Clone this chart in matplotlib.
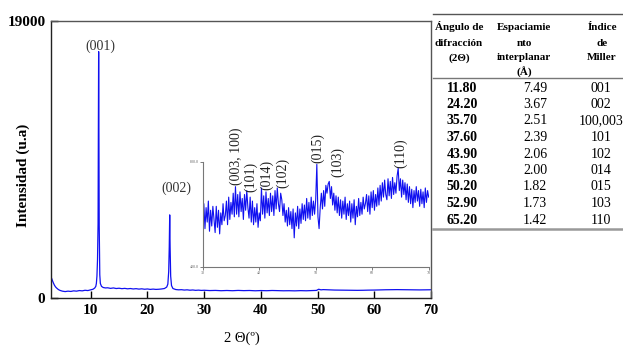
import matplotlib
matplotlib.use("Agg")
import matplotlib.pyplot as plt
from matplotlib.lines import Line2D

plt.rcParams['font.family'] = ['Liberation Serif', 'DejaVu Serif']

# ---------------- data ----------------
main_angle = [3.0, 3.2, 3.4, 3.6, 3.8, 4.0, 4.3, 4.6, 5.0, 5.5, 6.0, 6.5, 7.0, 7.5, 8.0, 8.5,
              9.0, 9.5, 10.0, 10.4, 10.7, 10.9, 11.0, 11.1, 11.2, 11.3, 11.35, 11.4, 11.45,
              11.5, 11.6, 11.7, 11.9, 12.2, 12.6, 13.0, 13.5, 14.0, 14.5, 15.0, 15.5, 16.0,
              16.5, 17.0, 17.5, 18.0, 18.5, 19.0, 19.5, 20.0, 20.5, 21.0, 21.5, 22.0, 22.5,
              23.0, 23.4, 23.6, 23.75, 23.85, 23.93, 24.0, 24.1, 24.25, 24.5, 25.0, 25.5,
              26.0, 26.5, 27.0, 27.5, 28.0, 28.5, 29.0, 29.5, 30.0, 31.0, 32.0, 33.0, 34.0,
              35.0, 36.0, 37.0, 38.0, 39.0, 40.0, 41.0, 42.0, 43.0, 44.0, 45.0, 46.0, 47.0,
              48.0, 49.0, 49.8, 50.2, 50.6, 51.0, 52.0, 53.0, 54.0, 55.0, 56.0, 57.0, 58.0,
              59.0, 60.0, 61.0, 62.0, 63.0, 64.0, 65.0, 66.0, 67.0, 68.0, 69.0, 70.0]
main_int = [1460, 1250, 1050, 880, 760, 680, 580, 520, 470, 440, 470, 450, 490, 470, 510, 490,
            530, 510, 560, 600, 680, 800, 1000, 1500, 2600, 5100, 11300, 16900, 11300,
            5000, 1600, 1000, 800, 720, 690, 700, 660, 690, 650, 670, 640, 660,
            630, 650, 620, 640, 610, 630, 600, 620, 590, 610, 590, 600, 620,
            650, 750, 950, 1800, 3500, 5700, 3500, 1500, 850, 650, 580, 560,
            570, 545, 560, 535, 550, 525, 540, 520, 530, 510, 520, 500, 515,
            500, 520, 505, 515, 495, 510, 500, 515, 505, 495, 500, 490, 505,
            495, 510, 520, 600, 560, 575, 560, 545, 540, 535, 530, 525, 530,
            540, 545, 555, 565, 570, 575, 570, 565, 560, 555, 560, 565]

inset_start = 30.0
inset_step = 0.2
inset_int = [560, 640, 545, 625, 570, 650, 535, 615, 555, 630,
             580, 530, 630, 550, 615, 525, 605, 560, 640, 575,
             595, 650, 560, 665, 580, 645, 600, 680, 590, 705,
             600, 675, 590, 685, 610, 660, 580, 675, 615, 690,
             625, 585, 665, 570, 650, 560, 625, 570, 640, 550,
             605, 575, 700, 600, 670, 585, 685, 605, 660, 595,
             680, 610, 670, 595, 690, 620, 700, 640, 610, 680,
             655, 595, 640, 570, 615, 555, 625, 560, 610, 545,
             620, 510, 605, 555, 630, 545, 620, 565, 640, 580,
             635, 575, 660, 585, 645, 580, 665, 595, 650, 600,
             655, 790, 590, 545, 625, 680, 620, 690, 630, 710,
             680, 715, 725, 660, 705, 635, 680, 615, 670, 605,
             665, 595, 655, 585, 650, 600, 665, 580, 640, 595,
             650, 570, 640, 585, 655, 560, 630, 590, 660, 595,
             645, 600, 665, 620, 640, 675, 610, 670, 600, 685,
             625, 690, 615, 675, 630, 700, 635, 710, 650, 720,
             665, 730, 675, 655, 735, 670, 725, 660, 740, 675,
             720, 680, 745, 775, 690, 735, 665, 730, 675, 720,
             655, 715, 645, 705, 640, 695, 625, 690, 645, 705,
             650, 690, 630, 695, 640, 685, 625, 700, 645, 690,
             665]
inset_angle = [inset_start + i * inset_step for i in range(len(inset_int))]

main_labels = ["(001)", "(002)"]
main_label_x = [11.77, 25.1]
main_label_y = [17285, 7545]

inset_labels = ["(003, 100)", "(101)", "(014)", "(102)", "(015)", "(103)", "(110)"]
inset_label_x = [35.9, 38.4, 41.3, 44.1, 50.4, 53.8, 65.1]
inset_label_y = [711, 685, 692, 700, 795, 742, 776]

x_ticks = [10, 20, 30, 40, 50, 60, 70]
y_ticks = [0, 19000]
inset_xticks = [30, 40, 50, 60, 70]
inset_yticks = [400, 800]

table_header = [["Ángulo de", "difracción", "(2Θ)"],
                ["Espaciamie", "nto", "interplanar", "(Å)"],
                ["Índice", "de", "Miller"]]
table_angle = ["11.80", "24.20", "35.70", "37.60", "43.90", "45.30", "50.20", "52.90", "65.20"]
table_spacing = ["7.49", "3.67", "2.51", "2.39", "2.06", "2.00", "1.82", "1.73", "1.42"]
table_miller = ["001", "002", "100,003", "101", "102", "014", "015", "103", "110"]

# ---------------- figure ----------------
W, H = 623, 346
fig = plt.figure(figsize=(W / 100, H / 100), dpi=100)

def fx(px):
    return px / W

def fy(py):
    return 1 - py / H

blue = "#1010f0"

ax = fig.add_axes([fx(51), fy(298), fx(431) - fx(51), fy(21) - fy(298)])
ax.plot(main_angle, main_int, color=blue, lw=0.9)
ax.set_xlim(3, 70)
ax.set_ylim(0, 19000)
ax.set_xticks(x_ticks)
ax.set_yticks(y_ticks)
ax.set_yticklabels([str(v) for v in y_ticks])
ax.tick_params(direction="in", length=5, width=1, labelsize=11, pad=4)
for lab in ax.get_xticklabels() + ax.get_yticklabels():
    lab.set_fontweight("bold")
for s in ax.spines.values():
    s.set_linewidth(1.0)
    s.set_color("#222222")
ax.spines["top"].set_color("#555555")
ax.spines["right"].set_color("#555555")

for t, x, y in zip(main_labels, main_label_x, main_label_y):
    ax.text(x, y, t, ha="center", va="center", fontsize=10, color="#333333")

fig.text(fx(23), fy(175), "Intensidad (u.a)", rotation=90, ha="center", va="center",
         fontsize=11, fontweight="bold")
fig.text(fx(242), fy(338), "2 Θ(º)", ha="center", va="center", fontsize=10.5)

# inset
axi = fig.add_axes([fx(202.7), fy(266.7), fx(428.7) - fx(202.7), fy(161.7) - fy(266.7)])
axi.plot(inset_angle, inset_int, color=blue, lw=0.8)
axi.set_xlim(30, 70)
axi.set_ylim(400, 800)
axi.set_xticks(inset_xticks)
axi.set_yticks(inset_yticks)
axi.set_yticklabels(["400.0", "800.0"])
axi.tick_params(labelsize=3, length=2, width=0.6, pad=1, colors="#666666")
axi.spines["top"].set_visible(False)
axi.spines["right"].set_visible(False)
for s in ["left", "bottom"]:
    axi.spines[s].set_color("#777777")
    axi.spines[s].set_linewidth(0.8)
axi.patch.set_alpha(0)
for t, x, y in zip(inset_labels, inset_label_x, inset_label_y):
    axi.text(x, y, t, rotation=90, ha="center", va="bottom", fontsize=10,
             color="#222222", clip_on=False)

# table
fig.add_artist(Line2D([fx(433), fx(623)], [fy(14), fy(14)], color="#555555", lw=1.0))
fig.add_artist(Line2D([fx(433), fx(623)], [fy(78), fy(78)], color="#777777", lw=1.0))
fig.add_artist(Line2D([fx(433), fx(623)], [fy(229), fy(229)], color="#999999", lw=1.8))

col_head_x = [459, 524, 602]
head_y = [27, 43, 58, 72]
for cx, lines in zip(col_head_x, table_header):
    for ln, yy in zip(lines, head_y):
        fig.text(fx(cx), fy(yy), ln, ha="center", va="center", fontsize=8,
                 fontweight="bold")

row_y0 = 88
row_dy = 16.5
col_x = [462, 535, 601]
for i in range(len(table_angle)):
    yy = row_y0 + i * row_dy
    fig.text(fx(col_x[0]), fy(yy), table_angle[i], ha="center", va="center",
             fontsize=10, fontweight="bold")
    fig.text(fx(col_x[1]), fy(yy), table_spacing[i], ha="center", va="center", fontsize=10)
    fig.text(fx(col_x[2]), fy(yy), table_miller[i], ha="center", va="center", fontsize=10)

fig.savefig("out.png", dpi=100)
